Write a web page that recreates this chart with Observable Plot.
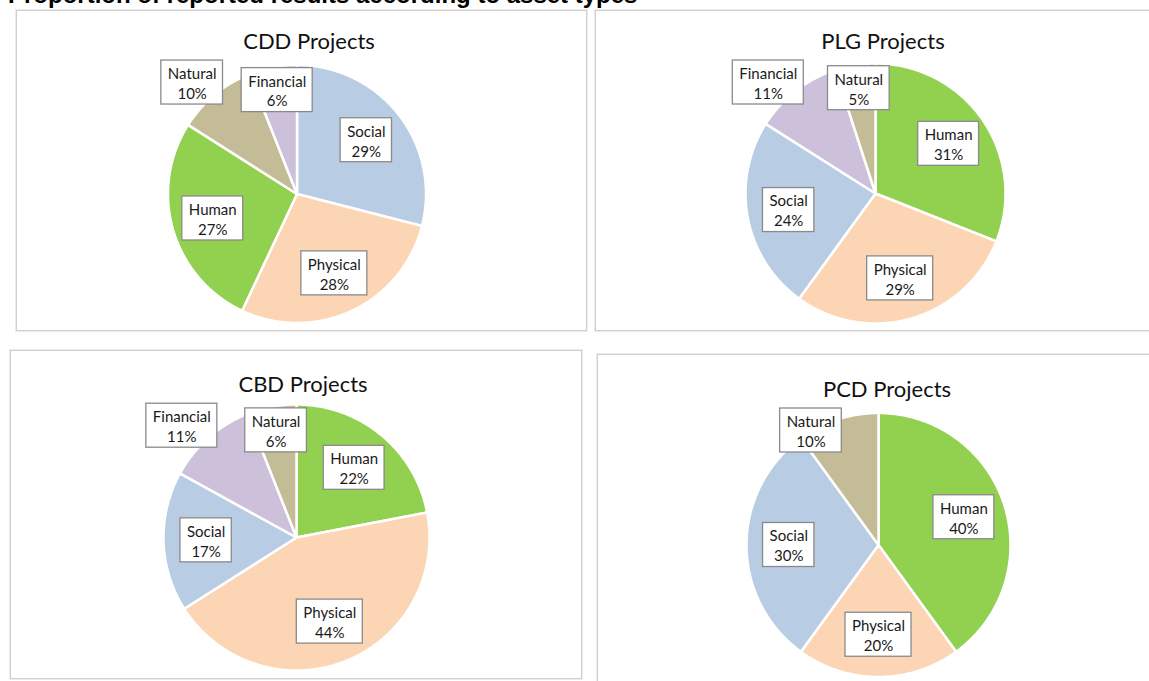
<!DOCTYPE html>
<html>
<head>
<meta charset="utf-8">
<script src="https://cdn.jsdelivr.net/npm/d3@7"></script>
<script src="https://cdn.jsdelivr.net/npm/@observablehq/plot@0.6"></script>
<style>
  html, body { margin: 0; padding: 0; background: #fff; }
  body { width: 1149px; height: 681px; position: relative; overflow: hidden; font-family: Lato, sans-serif; }
  .main-title { position: absolute; left: 8px; top: -17px; font: bold 24px/24px "Liberation Sans", Arial, sans-serif; color: #000; white-space: nowrap; }
  .panel { position: absolute; border: 1px solid #cfcfcf; box-shadow: 0 0 0 1px #ececec; background: #fff; box-sizing: border-box; }
  .panel svg { position: absolute; left: 0; top: 0; }
  .ptitle { position: absolute; font: 22px Lato, sans-serif; color: #111; white-space: nowrap; transform: translateX(-50%); line-height: 1; }
</style>
</head>
<body>
<div class="main-title">Proportion of reported results according to asset types</div>
<script>
// ---- data ----
const chartTitles = ["CDD Projects", "PLG Projects", "CBD Projects", "PCD Projects"];

const cddCategories = ["Social", "Physical", "Human", "Natural", "Financial"];
const cddValues     = [29, 28, 27, 10, 6];

const plgCategories = ["Human", "Physical", "Social", "Financial", "Natural"];
const plgValues     = [31, 29, 24, 11, 5];

const cbdCategories = ["Human", "Physical", "Social", "Financial", "Natural"];
const cbdValues     = [22, 44, 17, 11, 6];

const pcdCategories = ["Human", "Physical", "Social", "Natural"];
const pcdValues     = [40, 20, 30, 10];

const assetTypes  = ["Social", "Physical", "Human", "Natural", "Financial"];
const assetColors = ["#B8CCE4", "#FCD5B4", "#92D050", "#C4BC96", "#CCC0DA"];

// ---- layout (page pixels) ----
const panels = [
  {cats: cddCategories, vals: cddValues, left: 16,  top: 10,  w: 571, h: 321, cx: 296.5, cy: 193.5, r: 129, tx: 309, tb: 48},
  {cats: plgCategories, vals: plgValues, left: 595, top: 10,  w: 576, h: 321, cx: 875,   cy: 193,   r: 130, tx: 883, tb: 48},
  {cats: cbdCategories, vals: cbdValues, left: 10,  top: 350, w: 572, h: 329, cx: 296,   cy: 537,   r: 133, tx: 303, tb: 391},
  {cats: pcdCategories, vals: pcdValues, left: 597, top: 354, w: 580, h: 330, cx: 878,   cy: 544.5, r: 132, tx: 887, tb: 396}
];

const labelFont = "15px Lato";
const ctx = document.createElement("canvas").getContext("2d");
ctx.font = labelFont;
const textW = s => ctx.measureText(s).width;

panels.forEach((p, i) => {
  const div = document.createElement("div");
  div.className = "panel";
  Object.assign(div.style, {left: p.left + "px", top: p.top + "px", width: p.w + "px", height: p.h + "px"});
  document.body.appendChild(div);

  const rows = p.cats.map((c, k) => ({name: c, value: p.vals[k]}));
  const total = d3.sum(rows, d => d.value);
  const arcs = d3.pie().sort(null).value(d => d.value).startAngle(0).endAngle(2 * Math.PI)(rows);

  // slice polygons in radius units (x right, y down)
  const pts = [];
  arcs.forEach(a => {
    const name = a.data.name;
    pts.push({name, x: 0, y: 0});
    const n = Math.max(2, Math.ceil((a.endAngle - a.startAngle) / 0.01));
    for (let j = 0; j <= n; j++) {
      const t = a.startAngle + (a.endAngle - a.startAngle) * j / n;
      pts.push({name, x: Math.sin(t), y: -Math.cos(t)});
    }
  });

  // labels: inside for large shares, near the rim for tiny ones, outside for the rest
  const minY = (p.tb - p.cy + 12) / p.r;
  const labels = arcs.map(a => {
    const share = a.data.value / total;
    const m = (a.startAngle + a.endAngle) / 2;
    const sx = Math.sin(m), sy = -Math.cos(m);
    const pct = Math.round(share * 100) + "%";
    const tw = Math.max(textW(a.data.name), textW(pct));
    const hw = (tw / 2 + 6.5) / p.r, hh = 22 / p.r;
    let x, y;
    if (share >= 0.15) { x = 0.68 * sx; y = 0.68 * sy; }
    else if (share <= 0.06) { x = 0.82 * sx; y = 0.82 * sy; }
    else {
      // box corner nearest the pie sits on the ray, the box extends outward
      x = 0.9 * sx + Math.sign(sx) * hw;
      y = 0.9 * sy + Math.sign(sy) * hh;
    }
    y = Math.max(y, minY + hh);
    return {name: a.data.name, pct, x, y, x1: x - hw, x2: x + hw, y1: y - hh, y2: y + hh};
  });

  const ox = p.cx - p.left - 1, oy = p.cy - p.top - 1;
  const W = p.w - 2, H = p.h - 2;

  const chart = Plot.plot({
    width: W, height: H,
    margin: 0,
    x: {domain: [-ox / p.r, (W - ox) / p.r], range: [0, W], axis: null},
    y: {domain: [-oy / p.r, (H - oy) / p.r], range: [0, H], axis: null},
    color: {domain: assetTypes, range: assetColors},
    style: {background: "transparent", overflow: "visible"},
    marks: [
      Plot.line(pts, {x: "x", y: "y", z: "name", fill: "name", stroke: "white", strokeWidth: 2.5, curve: "linear-closed", strokeLinejoin: "round"}),
      Plot.rect(labels, {x1: "x1", x2: "x2", y1: "y1", y2: "y2", fill: "white", stroke: "#8a8a8a", strokeWidth: 1.3}),
      Plot.text(labels, {x: "x", y: "y", text: d => d.name + "\n" + d.pct, fontSize: 15, fontFamily: "Lato", lineHeight: 1.33, fill: "#1a1a1a"})
    ]
  });
  div.appendChild(chart);

  const t = document.createElement("div");
  t.className = "ptitle";
  t.textContent = chartTitles[i];
  t.style.left = (p.tx - p.left - 1) + "px";
  t.style.top = (p.tb - p.top - 1 - 18) + "px";
  div.appendChild(t);
});
</script>
</body>
</html>
